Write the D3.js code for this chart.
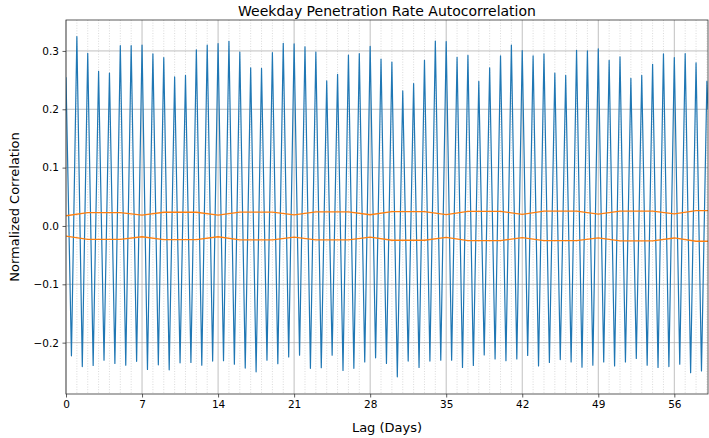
<!DOCTYPE html>
<html>
<head>
<meta charset="utf-8">
<script src="https://cdn.jsdelivr.net/npm/d3@7"></script>
<style>
  html, body { margin: 0; padding: 0; background: #fff; }
  svg { display: block; font-family: "DejaVu Sans", sans-serif; }
</style>
</head>
<body>
<svg id="chart" width="709" height="438"></svg>
<script>
// ---- data ----
const startPoint = { lag: 0, value: 0.255 };
const endPoint = { lag: 59.1, value: 0.2 };

// daily peaks at lag = 1..59 days
const peakValues = [
  0.3245, 0.296, 0.265, 0.262, 0.309, 0.309, 0.310, 0.295, 0.2885, 0.2555,
  0.258, 0.302, 0.310, 0.3125, 0.3165, 0.298, 0.271, 0.270, 0.297, 0.313,
  0.312, 0.307, 0.298, 0.2485, 0.260, 0.293, 0.2955, 0.308, 0.286, 0.281,
  0.2315, 0.244, 0.284, 0.317, 0.316, 0.289, 0.2925, 0.248, 0.271, 0.2915,
  0.310, 0.3005, 0.2915, 0.295, 0.262, 0.258, 0.301, 0.300, 0.3035, 0.284,
  0.290, 0.253, 0.258, 0.277, 0.295, 0.2885, 0.2955, 0.2795, 0.248
];
// troughs at lag = 0.5..58.5 days
const troughValues = [
  -0.2225, -0.241, -0.239, -0.230, -0.2355, -0.2385, -0.232, -0.246, -0.238, -0.2465,
  -0.2345, -0.234, -0.2385, -0.2315, -0.231, -0.237, -0.2435, -0.250, -0.230, -0.236,
  -0.2245, -0.2215, -0.244, -0.243, -0.2215, -0.2475, -0.244, -0.233, -0.226, -0.2355,
  -0.2585, -0.2315, -0.2425, -0.2315, -0.230, -0.230, -0.2425, -0.239, -0.221, -0.228,
  -0.231, -0.228, -0.222, -0.240, -0.234, -0.229, -0.233, -0.242, -0.2385, -0.233,
  -0.240, -0.233, -0.227, -0.2385, -0.2425, -0.241, -0.237, -0.2515, -0.2485
];

// confidence band (upper; lower is its mirror)
const confLags = [0, 2, 5, 7, 9, 12, 14, 16, 19, 21, 23, 26, 28, 30, 33, 35, 37, 40, 42, 44, 47, 49, 51, 54, 56, 58, 59.1];
const confUpper = [0.0175, 0.0230, 0.0230, 0.0185, 0.0235, 0.0235, 0.0185, 0.0238, 0.0238, 0.0190,
  0.0240, 0.0240, 0.0192, 0.0245, 0.0245, 0.0195, 0.0250, 0.0250, 0.0200, 0.0253, 0.0253, 0.0203,
  0.0256, 0.0256, 0.0206, 0.0262, 0.0262];

const xTicks = [0, 7, 14, 21, 28, 35, 42, 49, 56];
const yTicks = [-0.2, -0.1, 0.0, 0.1, 0.2, 0.3];
const titleText = "Weekday Penetration Rate Autocorrelation";
const xLabel = "Lag (Days)";
const yLabel = "Normalized Correlation";

// ---- build series ----
const acf = [startPoint];
for (let i = 0; i < troughValues.length; i++) {
  acf.push({ lag: i + 0.5, value: troughValues[i] });
  acf.push({ lag: i + 1, value: peakValues[i] });
}
acf.push(endPoint);
const upper = confLags.map((l, i) => ({ lag: l, value: confUpper[i] }));
const lower = confLags.map((l, i) => ({ lag: l, value: -confUpper[i] }));

// ---- layout ----
const W = 709, H = 438;
const m = { left: 66, top: 20, right: 1, bottom: 44 };
const pw = W - m.left - m.right, ph = H - m.top - m.bottom;

const svg = d3.select("#chart");
const x = d3.scaleLinear().domain([0, 59.1]).range([m.left, m.left + pw]);
const y = d3.scaleLinear().domain([-0.288, 0.353]).range([m.top + ph, m.top]);

const g = svg.append("g");

// minor x grid (every day)
const minorDays = d3.range(1, 60).filter(d => d % 7 !== 0);
g.append("g").selectAll("line").data(minorDays).join("line")
  .attr("x1", d => x(d)).attr("x2", d => x(d))
  .attr("y1", m.top).attr("y2", m.top + ph)
  .attr("stroke", "#d0d0d0").attr("stroke-width", 0.8)
  .attr("stroke-dasharray", "1,1.6");

// major grid
g.append("g").selectAll("line").data(xTicks).join("line")
  .attr("x1", d => x(d)).attr("x2", d => x(d))
  .attr("y1", m.top).attr("y2", m.top + ph)
  .attr("stroke", "#b0b0b0").attr("stroke-width", 0.8);
g.append("g").selectAll("line").data(yTicks).join("line")
  .attr("x1", m.left).attr("x2", m.left + pw)
  .attr("y1", d => y(d)).attr("y2", d => y(d))
  .attr("stroke", "#b0b0b0").attr("stroke-width", 0.8);

// clip
svg.append("clipPath").attr("id", "clip").append("rect")
  .attr("x", m.left).attr("y", m.top).attr("width", pw).attr("height", ph);

const line = d3.line().x(d => x(d.lag)).y(d => y(d.value));
const plot = svg.append("g").attr("clip-path", "url(#clip)");
plot.append("path").datum(acf).attr("d", line)
  .attr("fill", "none").attr("stroke", "#1f77b4").attr("stroke-width", 1.2)
  .attr("stroke-linejoin", "round");
plot.append("path").datum(upper).attr("d", line)
  .attr("fill", "none").attr("stroke", "#ff7f0e").attr("stroke-width", 1.3);
plot.append("path").datum(lower).attr("d", line)
  .attr("fill", "none").attr("stroke", "#ff7f0e").attr("stroke-width", 1.3);

// axes
const fmtY = v => d3.format(".1f")(v).replace("-", "\u2212");
const xAxis = svg.append("g").attr("transform", `translate(0,${m.top + ph})`)
  .call(d3.axisBottom(x).tickValues(xTicks).tickSize(3.5).tickPadding(3.5).tickFormat(d3.format("d")));
const yAxis = svg.append("g").attr("transform", `translate(${m.left},0)`)
  .call(d3.axisLeft(y).tickValues(yTicks).tickSize(3.5).tickPadding(3.5).tickFormat(fmtY));
[xAxis, yAxis].forEach(a => {
  a.selectAll("text").attr("font-size", 10.5).attr("fill", "#000")
    .attr("font-family", "DejaVu Sans, sans-serif");
  a.selectAll(".tick line").attr("stroke", "#333").attr("stroke-width", 0.8);
  a.select(".domain").remove();
});

// frame
svg.append("rect").attr("x", m.left).attr("y", m.top).attr("width", pw).attr("height", ph)
  .attr("fill", "none").attr("stroke", "#333").attr("stroke-width", 0.8);

// labels
svg.append("text").attr("x", m.left + pw / 2).attr("y", 16)
  .attr("text-anchor", "middle").attr("font-size", 14).attr("fill", "#000").text(titleText);
svg.append("text").attr("x", m.left + pw / 2).attr("y", 432)
  .attr("text-anchor", "middle").attr("font-size", 13).attr("fill", "#000").text(xLabel);
svg.append("text").attr("transform", `translate(19,${m.top + ph / 2}) rotate(-90)`)
  .attr("text-anchor", "middle").attr("font-size", 13).attr("fill", "#000").text(yLabel);
</script>
</body>
</html>
